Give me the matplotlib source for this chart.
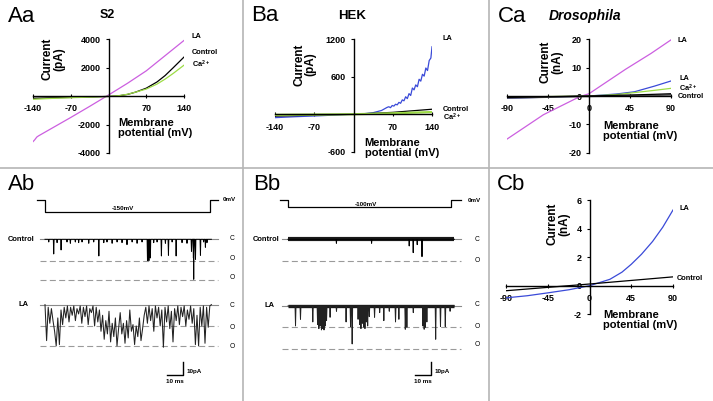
import numpy as np
import matplotlib.pyplot as plt
from matplotlib.lines import Line2D

plt.rcParams['font.family'] = ['Liberation Sans', 'DejaVu Sans']
plt.rcParams['mathtext.fontset'] = 'custom'
plt.rcParams['mathtext.rm'] = 'Liberation Sans'
plt.rcParams['mathtext.bf'] = 'Liberation Sans:bold'

W, H = 713, 401

# ---- IV data (mV, current) ----
aa_v_la = [-140, -137, -133, -130, -100, -70, -35, 0, 35, 70, 105, 140]
aa_i_la = [-3200, -3080, -2880, -2800, -2150, -1500, -720, 80, 900, 1780, 2850, 3920]
aa_v = [-140, -100, -70, -35, 0, 20, 35, 50, 70, 90, 105, 120, 140]
aa_i_ctrl = [-150, -110, -90, -60, -20, 30, 120, 280, 560, 1000, 1450, 2000, 2750]
aa_i_ca = [-220, -150, -110, -70, -20, 40, 130, 280, 500, 850, 1200, 1600, 2180]

ba_v_la = [-140, -105, -70, -35, 0, 20, 35, 50, 60, 63, 66, 69, 72, 75, 78, 81, 84, 87, 90, 93, 96,
           99, 102, 105, 108, 111, 114, 117, 120, 123, 126, 129, 132, 135, 138, 140]
ba_i_la = [-55, -40, -28, -14, 0, 10, 25, 60, 110, 120, 105, 140, 130, 160, 150, 190, 175, 230, 215,
           280, 250, 330, 300, 420, 390, 470, 440, 560, 530, 640, 610, 740, 700, 860, 900, 1080]
ba_v = [-140, -70, 0, 70, 140]
ba_i_ctrl = [-30, -14, 0, 30, 80]
ba_i_ca = [-10, -5, 0, 15, 35]

ca_v_la1 = [-90, -50, -10, 0, 40, 68, 90]
ca_i_la1 = [-15.2, -6.6, -0.2, 0.8, 9.4, 15.0, 19.8]
ca_v = [-90, -45, 0, 30, 50, 72, 90]
ca_i_la2 = [-0.8, -0.4, 0.0, 0.7, 1.5, 3.5, 5.3]
ca_i_ca = [-0.4, -0.2, 0.0, 0.5, 1.2, 2.0, 2.7]
ca_i_ctrl = [-0.5, -0.25, 0.0, 0.25, 0.4, 0.6, 0.8]
ca_i_ctrl2 = [-0.7, -0.4, -0.1, 0.0, 0.1, 0.25, 0.4]

cb_v = [-90, -67, -45, -22, 0, 22, 35, 45, 56, 68, 79, 90]
cb_i_la = [-0.85, -0.7, -0.5, -0.28, 0.0, 0.45, 0.95, 1.5, 2.2, 3.1, 4.1, 5.3]
cb_v_ctrl = [-90, 0, 90]
cb_i_ctrl = [-0.35, 0.12, 0.62]

# ---- single channel data (ms, pA) ----
ab_ctrl_t = [5.2, 9.8, 33.4, 51.0, 63.8, 64.7, 65.6, 72.5, 76.9, 81.7, 91.3, 92.5, 92.7, 93.8, 96.9, 100.0,
             2.1, 7.3, 13.5, 15.6, 18.7, 20.8, 22.9, 27.1, 30.2, 36.5, 38.5, 41.7, 44.8, 47.9, 54.2,
             57.3, 60.4, 67.7, 69.8, 75.0, 79.2, 85.4, 88.5, 98.9, 101.0]
ab_ctrl_a = [11, 8, 12.5, 4, 16, 16, 14, 12.5, 12, 12.5, 9, 14, 30, 15, 12, 6,
             2, 2.5, 2, 3, 2, 2.5, 2, 3, 2, 2.5, 2, 3, 2, 2.5, 2,
             3, 2, 2.5, 2, 3, 2, 2.5, 3, 2, 2.5]
ab_la_vals = [0, -27, -2, -14, -3, -12, -20, -31, -10, -30, -4, -15, -2, -10, -1, -13, -2, -8, -1, -12,
              -3, -7, -1, -14, -2, -9, -1, -15, -3, -6, -1, -16, -2, -13, -4, -20, -8, -26, -12, -22,
              -5, -28, -14, -24, -10, -31, -18, -6, -22, -14, -29, -12, -25, -4, -20, -15, -30, -16, -24, -10,
              -27, -18, -8, -2, -14, -1, -12, -3, -20, -1, -10, -2, -16, -4, -32, -2, -13, -1, -18, -5,
              -28, -3, -12, -1, -15, -2, -9, -1, -16, -4, -11, -1, -14, -3, -30, -8, -31, -2, -16, -1,
              -29, -2, -17, -1, 0]

bb_ctrl_t = [78.0, 83.5, 75.5, 80.5, 52.0, 30.0]
bb_ctrl_a = [10, 13, 5, 4, 3, 3]
bb_la_t = [4.4, 7.5, 15.2, 18.2, 19.0, 19.8, 20.6, 21.4, 22.2, 23.0, 23.8, 26.0, 30.0, 36.0, 38.8, 39.8,
           43.5, 44.5, 45.3, 46.2, 47.0, 47.8, 48.7, 49.5, 50.5, 53.8, 57.0, 59.6, 63.0, 66.9, 69.0,
           73.0, 74.0, 78.0, 84.0, 84.8, 85.6, 86.5, 92.0, 95.0, 98.0, 101.0]
bb_la_a = [15, 10, 12, 14, 17, 15, 18, 17, 18, 15, 11, 8.5, 4, 12, 15.5, 28.5,
           10, 14, 17, 13, 16, 17, 12, 15, 8, 8.5, 5, 11, 4, 12, 10,
           17.5, 16, 5, 15, 17.5, 16, 12, 25, 15.5, 15.5, 4]

ab_step_t = [-5, 0, 0, 103, 103, 108]
ab_step_v = [0, 0, -150, -150, 0, 0]
bb_step_t = [-5, 0, 0, 102, 102, 108]
bb_step_v = [0, 0, -100, -100, 0, 0]

MAGENTA = '#cc5fe0'
GREEN = '#9ddc45'
BLUE = '#3a4ad8'

fig = plt.figure(figsize=(W / 100, H / 100), dpi=100)


def box(x0, y0, x1, y1):
    return [x0 / W, 1 - y1 / H, (x1 - x0) / W, (y1 - y0) / H]


def ftext(x, y, s, **kw):
    fig.text(x / W, 1 - y / H, s, **kw)


def iv_axes(b, xlim, ylim, xt, yt):
    ax = fig.add_axes(box(*b))
    ax.patch.set_alpha(0)
    ax.set_xlim(xlim)
    ax.set_ylim(ylim)
    for s in ['top', 'right']:
        ax.spines[s].set_visible(False)
    ax.spines['left'].set_position(('data', 0))
    ax.spines['bottom'].set_position(('data', 0))
    ax.spines['left'].set_linewidth(1.0)
    ax.spines['bottom'].set_linewidth(1.0)
    ax.set_xticks(xt, [str(v) for v in xt], fontsize=6.5, fontweight='bold')
    ax.set_yticks(yt, [str(v) for v in yt], fontsize=6.5, fontweight='bold')
    ax.tick_params(axis='x', direction='inout', length=3, width=0.8, pad=4.5)
    ax.tick_params(axis='y', direction='out', length=2, width=0.8, pad=3.5)
    return ax


def spikes(t_ev, a_ev, t0, t1, dur=0.5):
    order = np.argsort(t_ev)
    tt, yy = [t0], [0.0]
    for k in order:
        tt += [t_ev[k], t_ev[k] + dur / 2, t_ev[k] + dur]
        yy += [0.0, -a_ev[k], 0.0]
    tt.append(t1)
    yy.append(0.0)
    return np.array(tt), np.array(yy)


def trace_axes(x0, x1, y0, y1, px_t0, px_y0):
    ax = fig.add_axes(box(x0, y0, x1, y1))
    ax.set_xlim((x0 - px_t0) / 1.6, (x1 - px_t0) / 1.6)
    ax.set_ylim((px_y0 - y1) / 1.333, (px_y0 - y0) / 1.333)
    ax.axis('off')
    return ax


def step_axes(x0, x1, y0, y1, px_t0, px_v0, mv_per_px):
    ax = fig.add_axes(box(x0, y0, x1, y1))
    ax.set_xlim((x0 - px_t0) / 1.6, (x1 - px_t0) / 1.6)
    ax.set_ylim((px_v0 - y1) * mv_per_px, (px_v0 - y0) * mv_per_px)
    ax.axis('off')
    return ax


def pa(y):
    return (239.3 - y) / 1.333


lab = dict(fontsize=8.5, fontweight='bold', rotation=90, ha='center', va='center', linespacing=0.95)
mlab = dict(fontsize=8, fontweight='bold', ha='left', va='center', linespacing=0.95)
leg = dict(fontsize=5.3, fontweight='bold', ha='left', va='center')
CA = r'$\mathbf{Ca^{2+}}$'

# ---- Aa ----
ax = iv_axes((33, 39.3, 184, 153), (-140, 140), (-4000, 4000), [-140, -70, 70, 140], [-4000, -2000, 2000, 4000])
ax.plot(aa_v_la, aa_i_la, color=MAGENTA, lw=0.9)
ax.plot(aa_v, aa_i_ctrl, color='black', lw=0.9)
ax.plot(aa_v, aa_i_ca, color=GREEN, lw=0.9)
ftext(53.5, 59, 'Current\n(pA)', **lab)
ftext(118, 128, 'Membrane\npotential (mV)', **mlab)
ftext(192, 37, 'LA', **leg)
ftext(192, 52, 'Control', **leg)
ftext(192, 64, CA, **leg)
ftext(107.5, 15, 'S2', fontsize=9, fontweight='bold', ha='center', va='center')
ftext(8, 16.5, 'Aa', fontsize=16, ha='left', va='center')

# ---- Ba ----
ax = iv_axes((275, 39.3, 432, 151.7), (-140, 140), (-600, 1200), [-140, -70, 70, 140], [-600, 600, 1200])
ax.plot(ba_v_la, ba_i_la, color=BLUE, lw=0.9)
ax.plot(ba_v, ba_i_ctrl, color='black', lw=0.9)
ax.plot(ba_v, ba_i_ca, color=GREEN, lw=1.6)
ftext(305, 64.5, 'Current\n(pA)', **lab)
ftext(364.7, 148, 'Membrane\npotential (mV)', **mlab)
ftext(443, 38, 'LA', **leg)
ftext(443, 109.5, 'Control', **leg)
ftext(443, 117.5, CA, **leg)
ftext(352, 16, 'HEK', fontsize=9.5, fontweight='bold', ha='center', va='center')
ftext(251, 15.5, 'Ba', fontsize=16, ha='left', va='center')

# ---- Ca ----
ax = iv_axes((507, 39.3, 671, 152.7), (-90, 90), (-20, 20), [-90, -45, 0, 45, 90], [-20, -10, 0, 10, 20])
ax.plot(ca_v_la1, ca_i_la1, color=MAGENTA, lw=0.9)
ax.plot(ca_v, ca_i_la2, color=BLUE, lw=0.9)
ax.plot(ca_v, ca_i_ca, color=GREEN, lw=0.9)
ax.plot(ca_v, ca_i_ctrl2, color='#555555', lw=1.2)
ax.plot(ca_v, ca_i_ctrl, color='black', lw=0.9)
ftext(551.5, 62, 'Current\n(nA)', **lab)
ftext(603.3, 131, 'Membrane\npotential (mV)', **mlab)
ftext(678, 40, 'LA', **leg)
ftext(679, 78, 'LA', **leg)
ftext(679, 88, CA, **leg)
ftext(678, 97, 'Control', **leg)
ftext(585, 16, 'Drosophila', fontsize=10, fontweight='bold', fontstyle='italic', ha='center', va='center')
ftext(497.7, 16.5, 'Ca', fontsize=16, ha='left', va='center')

# ---- Cb ----
ax = iv_axes((506, 200, 673, 314.3), (-90, 90), (-2, 6), [-90, -45, 0, 45, 90], [-2, 0, 2, 4, 6])
ax.plot(cb_v, cb_i_la, color=BLUE, lw=0.9)
ax.plot(cb_v_ctrl, cb_i_ctrl, color='black', lw=0.9)
ftext(558.5, 224, 'Current\n(nA)', **lab)
ftext(603.3, 320, 'Membrane\npotential (mV)', **mlab)
ftext(679, 209, 'LA', **leg)
ftext(677, 278, 'Control', **leg)
ftext(497, 185, 'Cb', fontsize=16, ha='left', va='center')

# ---- single channel panels ----
dash = dict(color='#9a9a9a', lw=0.8, dashes=(5.4, 3))
base = dict(color='#8a8a8a', lw=0.8)
small = dict(fontsize=4.5, fontweight='bold')
co = dict(fontsize=4.8, ha='left', va='center')

# Ab
ax = trace_axes(0, 240, 225, 395, 45, 239.3)
ax.plot([-3, 108], [0, 0], **base)
ax.plot([-3, 108], [-16, -16], **dash)
ax.plot([-3, 108], [-30.5, -30.5], **dash)
ax.plot([-3, 108], [-49, -49], **base)
ax.plot([-3, 108], [-65, -65], **dash)
ax.plot([-3, 108], [-80, -80], **dash)
tt, yy = spikes(ab_ctrl_t, ab_ctrl_a, 0, 104)
ax.plot(tt, yy, color='black', lw=0.7)
ax.plot(np.arange(len(ab_la_vals)), np.array(ab_la_vals) - 49, color='#222222', lw=0.75)
ax.text(-6.3, 0, 'Control', fontsize=5.4, fontweight='bold', ha='right', va='center')
ax.text(-10.6, -49, 'LA', fontsize=5.4, fontweight='bold', ha='right', va='center')
for y, s in [(238.3, 'C'), (259, 'O'), (277.3, 'O'), (305.7, 'C'), (327.7, 'O'), (346, 'O')]:
    ax.text(115.6, pa(y), s, **co)
ax.plot([76.25, 86.25, 86.25], [-101.8, -101.8, -91.8], color='black', lw=1.0)
ax.text(88.7, -99.3, '10pA', ha='left', va='center', **small)
ax.text(81.25, -107, '10 ms', ha='center', va='center', **small)
ax = step_axes(0, 240, 185, 222, 45, 200, 12.5)
ax.plot(ab_step_t, ab_step_v, color='black', lw=0.9)
ax.text(48.75, -110, '-150mV', ha='center', va='center', **small)
ax.text(111, 2, '0mV', ha='left', va='center', **small)
ftext(8, 185, 'Ab', fontsize=16, ha='left', va='center')

# Bb
ax = trace_axes(245, 487, 225, 395, 288, 239.3)
ax.plot([-3.75, 108], [0, 0], **base)
ax.plot([-3.75, 108], [-16.3, -16.3], **dash)
ax.plot([-3.75, 108], [-50, -50], **base)
ax.plot([-3.75, 108], [-66, -66], **dash)
ax.plot([-3.75, 108], [-82, -82], **dash)
ax.plot([0, 104], [0, 0], color='#1a1a1a', lw=3.0, solid_capstyle='butt')
tt, yy = spikes(bb_ctrl_t, bb_ctrl_a, 0, 104)
ax.plot(tt, yy, color='black', lw=0.7)
ax.plot([0, 104], [-50, -50], color='#1a1a1a', lw=2.4, solid_capstyle='butt')
tt, yy = spikes(bb_la_t, bb_la_a, 0, 104, dur=0.6)
ax.plot(tt, yy - 50, color='#222222', lw=0.7)
ax.text(-5.3, 0, 'Control', fontsize=5.4, fontweight='bold', ha='right', va='center')
ax.text(-8.4, -50, 'LA', fontsize=5.4, fontweight='bold', ha='right', va='center')
for y, s in [(239.3, 'C'), (260, 'O'), (305, 'C'), (326.7, 'O'), (344, 'O')]:
    ax.text(116.9, pa(y), s, **co)
ax.plot([79.4, 89.4, 89.4], [-101.8, -101.8, -91.8], color='black', lw=1.0)
ax.text(91.9, -99.3, '10pA', ha='left', va='center', **small)
ax.text(84.4, -107, '10 ms', ha='center', va='center', **small)
ax = step_axes(245, 487, 185, 222, 288, 200, 13.7)
ax.plot(bb_step_t, bb_step_v, color='black', lw=0.9)
ax.text(48.75, -55, '-100mV', ha='center', va='center', **small)
ax.text(112.5, 0, '0mV', ha='left', va='center', **small)
ftext(253, 185, 'Bb', fontsize=16, ha='left', va='center')

# panel separators
sep = dict(color='#b5b5b5', lw=1.2, transform=fig.transFigure)
fig.add_artist(Line2D([243 / W, 243 / W], [0, 1], **sep))
fig.add_artist(Line2D([489 / W, 489 / W], [0, 1], **sep))
fig.add_artist(Line2D([0, 1], [1 - 168 / H, 1 - 168 / H], **sep))

fig.savefig('out.png', dpi=100)
